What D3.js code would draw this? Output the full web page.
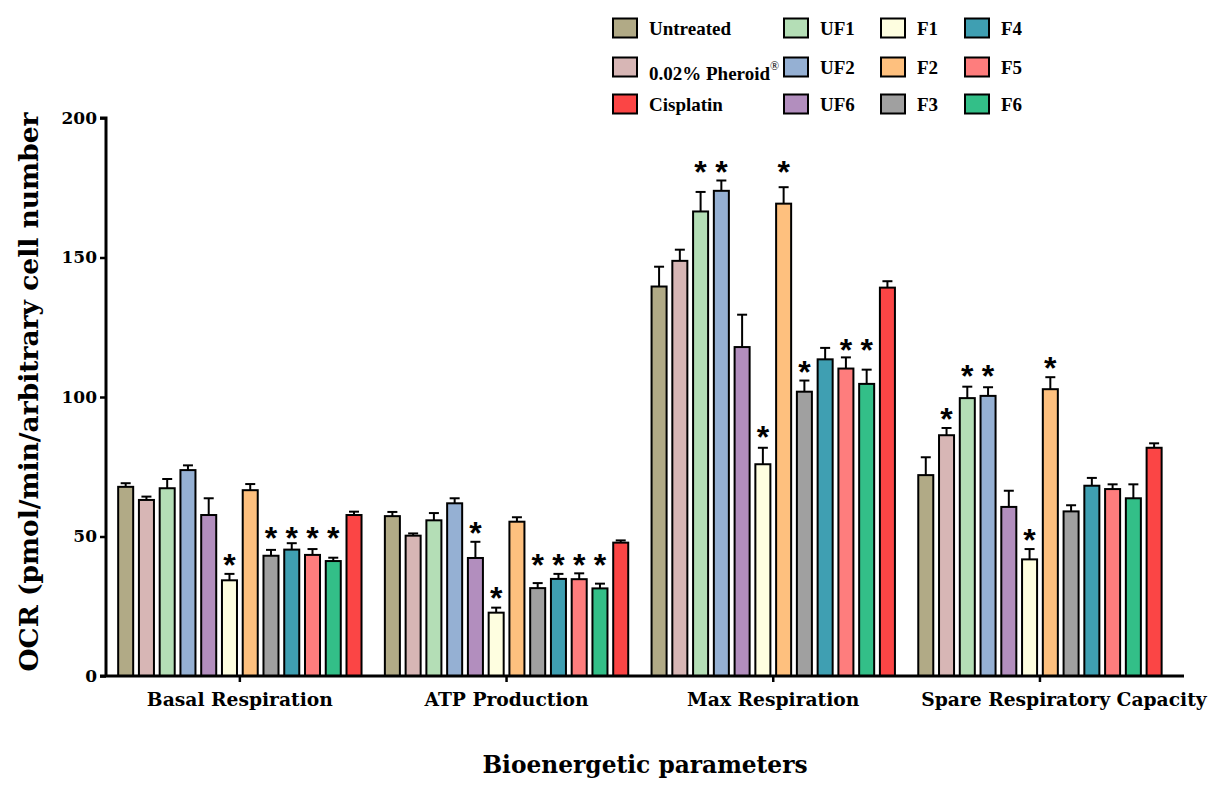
<!DOCTYPE html>
<html>
<head>
<meta charset="utf-8">
<script src="https://cdn.jsdelivr.net/npm/d3@7"></script>
<style>
  body { margin: 0; background: #fff; }
  text { font-family: "DejaVu Serif", serif; font-weight: bold; }
</style>
</head>
<body>
<div id="chart"></div>
<script>
// bioenergetic parameter groups and treatments
const groups = ["Basal Respiration", "ATP Production", "Max Respiration", "Spare Respiratory Capacity"];
const series = ["Untreated", "0.02% Pheroid", "UF1", "UF2", "UF6", "F1", "F2", "F3", "F4", "F5", "F6", "Cisplatin"];
const colors = ["#b1aa86", "#d7b6b5", "#b4deb6", "#95b0d3", "#b28ebe", "#fefee0", "#fec07e", "#a0a0a0", "#3f9fb2", "#fe7d7d", "#33bf88", "#fb4545"];

// mean values, one row per group, in series order
const means = [
  [67.8, 63.1, 67.3, 73.8, 57.7, 34.3, 66.6, 43.1, 45.3, 43.4, 41.2, 57.7],
  [57.3, 50.3, 55.8, 61.9, 42.3, 22.7, 55.3, 31.5, 34.8, 34.7, 31.4, 47.8],
  [139.6, 148.8, 166.5, 173.9, 117.9, 75.9, 169.3, 101.9, 113.5, 110.2, 104.7, 139.2],
  [72.0, 86.3, 99.6, 100.4, 60.6, 41.8, 102.8, 59.0, 68.2, 67.0, 63.7, 81.8]
];
// error (upper) values
const errs = [
  [1.3, 1.2, 3.3, 1.7, 6.0, 2.3, 2.2, 2.1, 2.3, 2.1, 1.2, 1.2],
  [1.5, 0.8, 2.6, 1.8, 5.8, 1.8, 1.6, 1.8, 1.8, 2.1, 1.7, 0.8],
  [7.1, 4.0, 7.0, 3.7, 11.6, 5.9, 5.9, 4.0, 4.1, 4.0, 5.1, 2.3],
  [6.4, 2.6, 4.1, 3.1, 5.8, 3.7, 4.3, 2.2, 2.8, 1.7, 5.0, 1.6]
];
// significance markers: [group, series, level of the star]
const stars = [
  [0, 5, 41.6], [0, 7, 51.3], [0, 8, 51.3], [0, 9, 51.3], [0, 10, 51.3],
  [1, 4, 53.0], [1, 5, 29.7], [1, 7, 41.6], [1, 8, 41.6], [1, 9, 41.6], [1, 10, 41.6],
  [2, 2, 182.5], [2, 3, 182.5], [2, 5, 87.4], [2, 6, 182.5], [2, 7, 110.8], [2, 9, 118.5], [2, 10, 118.5],
  [3, 1, 93.9], [3, 2, 109.3], [3, 3, 109.3], [3, 5, 50.5], [3, 6, 112.2]
];
const yTicks = [0, 50, 100, 150, 200];

const width = 1211, height = 791;
const svg = d3.select("#chart").append("svg")
  .attr("width", width)
  .attr("height", height);

const x0 = d3.scaleBand()
  .domain(groups)
  .range([106.5, 1173.3])
  .paddingInner(0.066)
  .paddingOuter(0.033);

const x1 = d3.scaleBand()
  .domain(series)
  .range([0, x0.bandwidth()])
  .paddingInner(0.18)
  .paddingOuter(0.09);

const y = d3.scaleLinear()
  .domain([0, 200])
  .range([676, 118]);

const color = d3.scaleOrdinal().domain(series).range(colors);

// bars
const rows = [];
groups.forEach((g, gi) => {
  series.forEach((s, si) => {
    rows.push({ group: g, series: s, value: means[gi][si], err: errs[gi][si] });
  });
});

const bar = svg.append("g").selectAll("g")
  .data(rows)
  .enter().append("g")
  .attr("transform", d => `translate(${x0(d.group) + x1(d.series)},0)`);

// error bars (drawn first so the bar outline covers the base)
bar.append("line")
  .attr("x1", x1.bandwidth() / 2)
  .attr("x2", x1.bandwidth() / 2)
  .attr("y1", d => y(d.value))
  .attr("y2", d => y(d.value + d.err))
  .attr("stroke", "#000")
  .attr("stroke-width", 2);

bar.append("line")
  .attr("x1", x1.bandwidth() / 2 - 5)
  .attr("x2", x1.bandwidth() / 2 + 5)
  .attr("y1", d => y(d.value + d.err))
  .attr("y2", d => y(d.value + d.err))
  .attr("stroke", "#000")
  .attr("stroke-width", 2);

bar.append("rect")
  .attr("x", 1)
  .attr("width", x1.bandwidth() - 2)
  .attr("y", d => y(d.value))
  .attr("height", d => y(0) - y(d.value))
  .attr("fill", d => color(d.series))
  .attr("stroke", "#000")
  .attr("stroke-width", 2);

// significance stars
svg.append("g").selectAll("text")
  .data(stars)
  .enter().append("text")
  .attr("x", d => x0(groups[d[0]]) + x1(series[d[1]]) + x1.bandwidth() / 2)
  .attr("y", d => y(d[2]) + 16)
  .attr("text-anchor", "middle")
  .style("font-family", "'Liberation Sans', Arial, sans-serif")
  .style("font-size", "32px")
  .text("*");

// y axis
const yAxis = svg.append("g")
  .attr("transform", "translate(106,0)")
  .call(d3.axisLeft(y).tickValues(yTicks).tickSize(6).tickPadding(3));
yAxis.select(".domain").attr("stroke-width", 3).attr("d", `M-6,${y(200)}H0V${y(0)}`);
yAxis.selectAll(".tick line").attr("stroke-width", 2.5);
yAxis.selectAll("text").style("font-size", "17px").style("font-family", "'DejaVu Serif', serif").attr("fill", "#000");

// x axis
const xAxis = svg.append("g")
  .attr("transform", `translate(0,${y(0)})`)
  .call(d3.axisBottom(x0).tickSize(6).tickPadding(11).tickSizeOuter(0));
xAxis.select(".domain").attr("stroke-width", 3).attr("d", `M100,0H1184`);
xAxis.selectAll(".tick line").attr("stroke-width", 2.5);
xAxis.selectAll("text").style("font-size", "18.7px").style("font-family", "'DejaVu Serif', serif").attr("fill", "#000");
// the last label sits a little right of its tick
xAxis.selectAll(".tick").filter(d => d === groups[3]).select("text").attr("dx", 24);

// axis titles
svg.append("text")
  .attr("x", 645)
  .attr("y", 773)
  .attr("text-anchor", "middle")
  .style("font-size", "23.3px")
  .text("Bioenergetic parameters");

svg.append("text")
  .attr("transform", "translate(38,392) rotate(-90)")
  .attr("text-anchor", "middle")
  .style("font-size", "26.5px")
  .text("OCR (pmol/min/arbitrary cell number");

// legend, column by column
const legendOrder = [
  ["Untreated", "0.02% Pheroid", "Cisplatin"],
  ["UF1", "UF2", "UF6"],
  ["F1", "F2", "F3"],
  ["F4", "F5", "F6"]
];
const colX = [613, 784, 881, 965];
const rowY = [28, 67, 104];

const legend = svg.append("g");
legendOrder.forEach((col, ci) => {
  col.forEach((name, ri) => {
    const item = legend.append("g")
      .attr("transform", `translate(${colX[ci]},${rowY[ri]})`);
    item.append("rect")
      .attr("x", 0)
      .attr("y", -9.5)
      .attr("width", 24)
      .attr("height", 19)
      .attr("fill", color(name))
      .attr("stroke", "#000")
      .attr("stroke-width", 2);
    const t = item.append("text")
      .attr("x", 36)
      .attr("y", name === "0.02% Pheroid" ? 13 : 7)
      .style("font-family", "'Liberation Serif', serif")
      .style("font-size", "19px");
    t.append("tspan").text(name);
    if (name === "0.02% Pheroid") {
      t.append("tspan").attr("dy", -10).style("font-size", "12px").style("font-weight", "normal").text("®");
    }
  });
});
</script>
</body>
</html>
